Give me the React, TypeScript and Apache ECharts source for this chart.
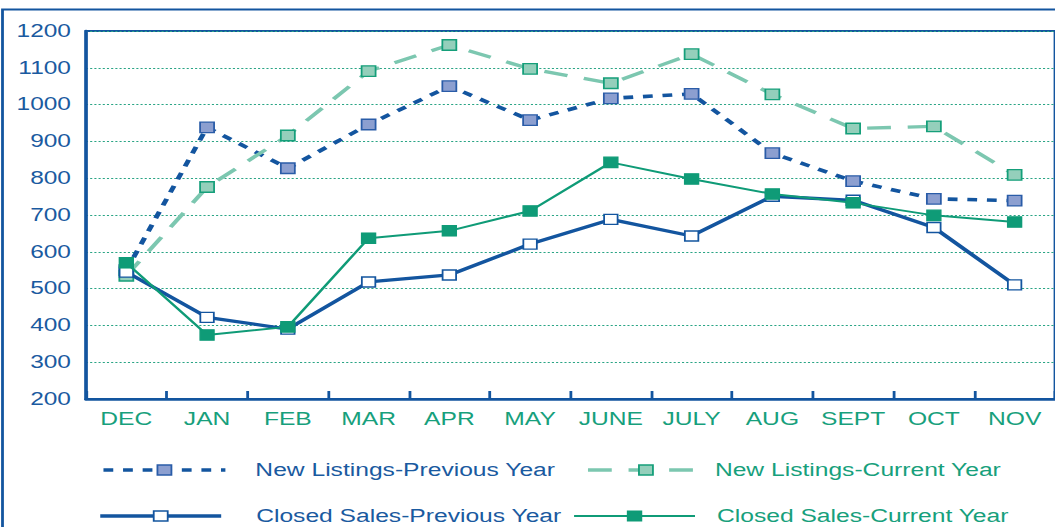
import React, { useEffect, useRef } from "react";
import * as echarts from "echarts";

const categories = ["DEC", "JAN", "FEB", "MAR", "APR", "MAY", "JUNE", "JULY", "AUG", "SEPT", "OCT", "NOV"];
const newListingsPrev = [550, 938, 827, 946, 1050, 958, 1017, 1029, 868, 792, 744, 739];
const newListingsCurr = [535, 776, 916, 1091, 1162, 1097, 1058, 1137, 1028, 935, 941, 809];
const closedSalesPrev = [545, 422, 390, 518, 537, 621, 688, 643, 751, 740, 666, 510];
const closedSalesCurr = [570, 374, 396, 637, 657, 711, 843, 798, 757, 733, 699, 681];
const yTicks = { min: 200, max: 1200, interval: 100 };

const S = 1.4; // horizontal stretch of the reference picture
const px = (x: number) => x / S;

const DARK_BLUE = "#13559f";
const LABEL_BLUE = "#1a5aa0";
const GREEN = "#0f9b77";
const LABEL_GREEN = "#17a07c";
const LIGHT_GREEN = "#7cc7b0";
const FONT = "'Liberation Sans', Arial, Helvetica, sans-serif";

export default function App() {
  const ref = useRef<HTMLDivElement>(null);
  useEffect(() => {
    if (!ref.current) return;
    const chart = echarts.init(ref.current, null, { renderer: "svg" });
    const nlPrevItem = { color: "#8c9fd0", borderColor: "#2a5ca8", borderWidth: 1.3 };
    const nlCurrItem = { color: "#94cfbb", borderColor: "#159f7a", borderWidth: 1.3 };
    const csPrevItem = { color: "#ffffff", borderColor: DARK_BLUE, borderWidth: 1.3 };
    const csCurrItem = { color: GREEN, borderColor: GREEN, borderWidth: 1 };
    const nlPrevLine = { color: DARK_BLUE, width: 3.6, type: [7, 7] as number[] };
    const nlCurrLine = { color: LIGHT_GREEN, width: 3.3, type: [17, 12] as number[] };
    const csPrevLine = { color: DARK_BLUE, width: 3.3, type: "solid" as const };
    const csCurrLine = { color: GREEN, width: 2, type: "solid" as const };

    const mkLegend = (name: string, left: number, top: number, width: number, pad: number, color: string, line: any, item: any) => ({
      data: [name],
      left: px(left),
      top,
      padding: 0,
      itemWidth: px(width),
      itemHeight: 12.5,
      itemGap: 0,
      selectedMode: false,
      lineStyle: { ...line },
      itemStyle: { ...item },
      textStyle: { color, fontSize: 17.6, fontFamily: FONT, padding: [0, 0, 0, px(pad)], lineHeight: 18 },
    });

    chart.setOption({
      animation: false,
      backgroundColor: "#ffffff",
      grid: {
        left: px(86),
        top: 31,
        width: px(972),
        height: 368,
        show: true,
        borderColor: DARK_BLUE,
        borderWidth: 2,
        backgroundColor: "transparent",
      },
      graphic: [
        {
          type: "rect",
          shape: { x: px(2.5), y: 9.5, width: 2000, height: 2000 },
          style: { fill: "none", stroke: DARK_BLUE, lineWidth: 2 },
          silent: true,
        },
      ],
      legend: [
        mkLegend("New Listings-Previous Year", 101, 461, 122, 23, LABEL_BLUE, nlPrevLine, nlPrevItem),
        mkLegend("New Listings-Current Year", 586, 461, 116, 4, LABEL_GREEN, nlCurrLine, nlCurrItem),
        mkLegend("Closed Sales-Previous Year", 98, 507, 121, 28, LABEL_BLUE, csPrevLine, csPrevItem),
        mkLegend("Closed Sales-Current Year", 573, 507, 121, 15, LABEL_GREEN, csCurrLine, csCurrItem),
      ],
      xAxis: {
        type: "category",
        data: categories,
        boundaryGap: true,
        axisLine: { lineStyle: { color: DARK_BLUE, width: 2.5 } },
        axisTick: { show: true, inside: true, length: 8, interval: 0, lineStyle: { color: DARK_BLUE, width: 2 } },
        axisLabel: { color: LABEL_GREEN, fontSize: 17.6, fontFamily: FONT, margin: 11, interval: 0 },
        splitLine: { show: false },
      },
      yAxis: {
        type: "value",
        min: yTicks.min,
        max: yTicks.max,
        interval: yTicks.interval,
        axisLine: { show: true, lineStyle: { color: DARK_BLUE, width: 2.5 } },
        axisTick: { show: false },
        axisLabel: {
          color: LABEL_BLUE,
          fontSize: 17.5,
          fontFamily: FONT,
          margin: px(15),
          formatter: (v: number) => String(v),
        },
        splitLine: { show: true, lineStyle: { color: "#2aa585", width: 1, type: [1.5, 1.5] } },
      },
      series: [
        {
          name: "New Listings-Previous Year",
          type: "line",
          data: newListingsPrev,
          symbol: "rect",
          symbolSize: [px(14), 10.5],
          showAllSymbol: true,
          lineStyle: nlPrevLine,
          itemStyle: nlPrevItem,
          z: 2,
        },
        {
          name: "New Listings-Current Year",
          type: "line",
          data: newListingsCurr,
          symbol: "rect",
          symbolSize: [px(14), 10.5],
          showAllSymbol: true,
          lineStyle: nlCurrLine,
          itemStyle: nlCurrItem,
          z: 3,
        },
        {
          name: "Closed Sales-Previous Year",
          type: "line",
          data: closedSalesPrev,
          symbol: "rect",
          symbolSize: [px(13.5), 10],
          showAllSymbol: true,
          lineStyle: csPrevLine,
          itemStyle: csPrevItem,
          z: 4,
        },
        {
          name: "Closed Sales-Current Year",
          type: "line",
          data: closedSalesCurr,
          symbol: "rect",
          symbolSize: [px(14), 10.5],
          showAllSymbol: true,
          lineStyle: csCurrLine,
          itemStyle: csCurrItem,
          z: 5,
        },
      ],
    });
    return () => chart.dispose();
  }, []);

  return (
    <div style={{ position: "absolute", left: 0, top: 0, width: 1055, height: 527, overflow: "hidden", background: "#fff" }}>
      <div
        ref={ref}
        style={{
          width: Math.round(1055 / S),
          height: 527,
          transform: `scaleX(${1055 / Math.round(1055 / S)})`,
          transformOrigin: "0 0",
        }}
      />
    </div>
  );
}
